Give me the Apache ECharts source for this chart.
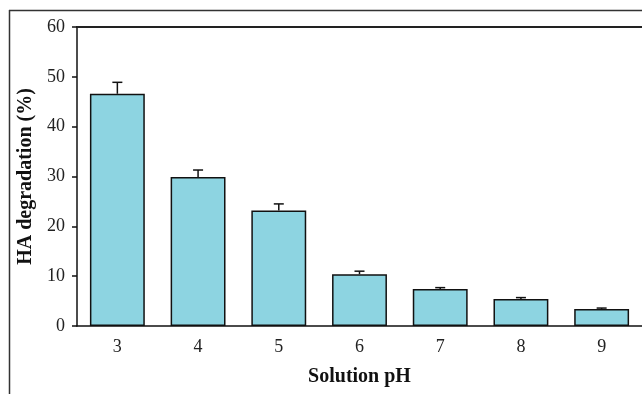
<!DOCTYPE html>
<html>
<head>
<meta charset="utf-8">
<script src="https://cdn.jsdelivr.net/npm/echarts@6/dist/echarts.min.js"></script>
<style>
html,body{margin:0;padding:0;background:#fff;}
#chart{width:642px;height:394px;}
</style>
</head>
<body>
<div id="chart"></div>
<script>
const categories = ['3', '4', '5', '6', '7', '8', '9'];
const degradation = [46.6, 29.9, 23.2, 10.4, 7.4, 5.4, 3.4];
const errors = [2.3, 1.4, 1.3, 0.6, 0.3, 0.3, 0.2];
const yTicks = [0, 10, 20, 30, 40, 50, 60];

const chart = echarts.init(document.getElementById('chart'));
const font = 'Liberation Serif';
chart.setOption({
  animation: false,
  backgroundColor: '#fff',
  grid: { left: 77, top: 27, right: -2, bottom: 68 },
  graphic: [
    { type: 'line', shape: { x1: 9.5, y1: 10, x2: 9.5, y2: 394 }, style: { stroke: '#333', lineWidth: 1.5 } },
    { type: 'line', shape: { x1: 9, y1: 10.5, x2: 642, y2: 10.5 }, style: { stroke: '#333', lineWidth: 1.5 } }
  ],
  xAxis: [
    {
      type: 'category',
      data: categories,
      axisLine: { lineStyle: { color: '#111', width: 1.5 } },
      axisTick: { show: false },
      axisLabel: { color: '#222', fontFamily: font, fontSize: 18, margin: 12 },
      name: 'Solution pH',
      nameLocation: 'middle',
      nameGap: 41,
      nameTextStyle: { color: '#111', fontFamily: font, fontSize: 20, fontWeight: 'bold' }
    },
    {
      type: 'category',
      data: categories,
      position: 'top',
      axisLine: { show: true, lineStyle: { color: '#222', width: 2 } },
      axisTick: { show: false },
      axisLabel: { show: false }
    }
  ],
  yAxis: {
    type: 'value',
    min: yTicks[0], max: yTicks[yTicks.length - 1], interval: 10,
    axisLine: { show: true, lineStyle: { color: '#111', width: 1.5 } },
    axisTick: { show: true, inside: false, length: 5, lineStyle: { color: '#111', width: 1.5 } },
    splitLine: { show: false },
    axisLabel: { color: '#222', fontFamily: font, fontSize: 18, margin: 12 },
    name: 'HA degradation (%)',
    nameLocation: 'middle',
    nameGap: 40,
    nameTextStyle: { color: '#111', fontFamily: font, fontSize: 20, fontWeight: 'bold' }
  },
  series: [
    {
      type: 'bar',
      data: degradation,
      barWidth: '68%',
      itemStyle: { color: '#8dd4e1', borderColor: '#111', borderWidth: 1.5 }
    },
    {
      type: 'custom',
      z: 3,
      data: degradation.map((v, i) => [i, v, errors[i]]),
      renderItem: function (params, api) {
        const i = api.value(0);
        const v = api.value(1);
        const e = api.value(2);
        const p0 = api.coord([i, v]);
        const p1 = api.coord([i, v + e]);
        const hw = 5;
        return {
          type: 'group',
          children: [
            { type: 'line', shape: { x1: p0[0], y1: p0[1], x2: p1[0], y2: p1[1] }, style: { stroke: '#111', lineWidth: 1.5 } },
            { type: 'line', shape: { x1: p1[0] - hw, y1: p1[1], x2: p1[0] + hw, y2: p1[1] }, style: { stroke: '#111', lineWidth: 1.5 } }
          ]
        };
      }
    }
  ]
});
</script>
</body>
</html>
